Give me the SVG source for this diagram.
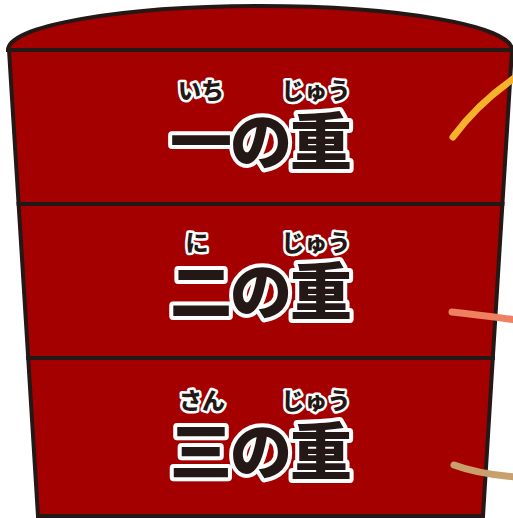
<svg xmlns="http://www.w3.org/2000/svg" width="513" height="518" viewBox="0 0 513 518">
  <style>
    .box { fill: #a40000; stroke: #231815; stroke-width: 4; stroke-linejoin: miter; }
    .big { font-family: "Noto Sans CJK JP", sans-serif; font-weight: 900; font-size: 62px; fill: #231815; stroke: #ffffff; stroke-width: 8; stroke-linejoin: round; paint-order: stroke; text-anchor: middle; letter-spacing: -2px; }
    .ruby { font-family: "Noto Sans CJK JP", sans-serif; font-weight: 900; font-size: 23px; fill: #231815; stroke: #ffffff; stroke-width: 5; stroke-linejoin: round; paint-order: stroke; text-anchor: middle; }
    .cord { fill: none; stroke-width: 7; stroke-linecap: round; }
  </style>
  <rect width="513" height="518" fill="#ffffff"/>
  <g id="lid">
    <path class="box" d="M8,50 A252,44 0 0 1 512,50 Z"/>
  </g>
  <g id="tier3">
    <polygon class="box" points="28.2,358 492.8,358 483,516 38,516"/>
    <text class="big" x="260" y="475">三の重</text>
    <text class="ruby" x="202" y="409">さん</text>
    <text class="ruby" x="316" y="409">じゅう</text>
  </g>
  <g id="tier2">
    <polygon class="box" points="18.6,204 502.4,204 492.8,358 28.2,358"/>
    <text class="big" x="260" y="315">二の重</text>
    <text class="ruby" x="197" y="251">に</text>
    <text class="ruby" x="316" y="251">じゅう</text>
  </g>
  <g id="tier1">
    <polygon class="box" points="9,50 512,50 502.4,204 18.6,204"/>
    <text class="big" x="260" y="165">一の重</text>
    <text class="ruby" x="201" y="99">いち</text>
    <text class="ruby" x="316" y="99">じゅう</text>
  </g>
  <g id="connectors">
    <path class="cord" stroke="#f6b22b" d="M453,137 Q478,103 516,77"/>
    <path class="cord" stroke="#ef8163" d="M452,312 Q480,315 516,320"/>
    <path class="cord" stroke="#c9a06c" d="M454,465 Q478,474 516,477"/>
  </g>
</svg>
